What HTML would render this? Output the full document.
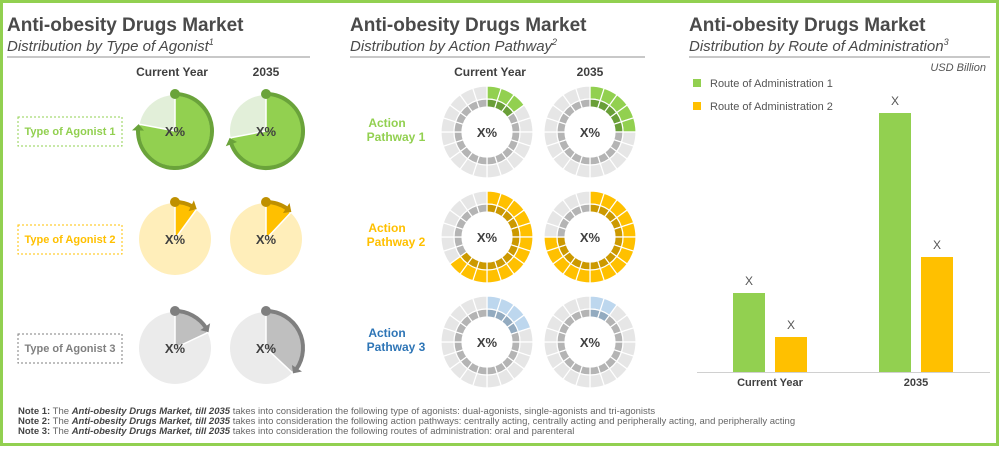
<!DOCTYPE html>
<html><head><meta charset="utf-8"><style>
body{margin:0;width:1000px;height:447px;overflow:hidden;background:#fff;font-family:"Liberation Sans",sans-serif}
</style></head><body>
<svg id="s" width="1000" height="447" xmlns="http://www.w3.org/2000/svg" font-family="Liberation Sans, sans-serif">
<rect x="1.5" y="1.5" width="996" height="443" fill="#fff" stroke="#92d050" stroke-width="3"/>
<g fill="#4a4a4a">
<text x="7" y="31" font-size="19" font-weight="bold">Anti-obesity Drugs Market</text>
<text x="7" y="51" font-size="15" font-style="italic">Distribution by Type of Agonist<tspan font-size="9" dy="-6">1</tspan></text>
<text x="350" y="31" font-size="19" font-weight="bold">Anti-obesity Drugs Market</text>
<text x="350" y="51" font-size="15" font-style="italic">Distribution by Action Pathway<tspan font-size="9" dy="-6">2</tspan></text>
<text x="689" y="31" font-size="19" font-weight="bold">Anti-obesity Drugs Market</text>
<text x="689" y="51" font-size="15" font-style="italic">Distribution by Route of Administration<tspan font-size="9" dy="-6">3</tspan></text>
</g>
<line x1="7" y1="57" x2="310" y2="57" stroke="#c8c8c8" stroke-width="2"/>
<line x1="350" y1="57" x2="645" y2="57" stroke="#c8c8c8" stroke-width="2"/>
<line x1="689" y1="57" x2="990" y2="57" stroke="#c8c8c8" stroke-width="2"/>
<g font-size="12" font-weight="bold" fill="#404040" text-anchor="middle">
<text x="172" y="76">Current Year</text>
<text x="266" y="76">2035</text>
<text x="490" y="76">Current Year</text>
<text x="590" y="76">2035</text>
</g>
<g id="left"></g><g id="mid"></g><g id="bars"></g>
<g font-size="9.5" fill="#666">
<text x="18" y="414"><tspan font-weight="bold" fill="#444">Note 1:</tspan> The <tspan font-weight="bold" font-style="italic" fill="#444">Anti-obesity Drugs Market, till 2035</tspan> takes into consideration the following type of agonists: dual-agonists, single-agonists and tri-agonists</text>
<text x="18" y="424"><tspan font-weight="bold" fill="#444">Note 2:</tspan> The <tspan font-weight="bold" font-style="italic" fill="#444">Anti-obesity Drugs Market, till 2035</tspan> takes into consideration the following action pathways: centrally acting, centrally acting and peripherally acting, and peripherally acting</text>
<text x="18" y="434"><tspan font-weight="bold" fill="#444">Note 3:</tspan> The <tspan font-weight="bold" font-style="italic" fill="#444">Anti-obesity Drugs Market, till 2035</tspan> takes into consideration the following routes of administration: oral and parenteral</text>
</g>
</svg>
<script>
const agonists=['Type of Agonist 1','Type of Agonist 2','Type of Agonist 3'];
const agonistCurrent=[78,10,18];
const agonist2035=[72,12,37];
const pathways=['Action Pathway 1','Action Pathway 2','Action Pathway 3'];
const pathwayCurrent=[3,13,4];
const pathway2035=[5,15,2];
const barCategories=['Current Year','2035'];
const route1=[79,259];
const route2=[35,115];
const seriesNames=['Route of Administration 1','Route of Administration 2'];

const NS='http://www.w3.org/2000/svg';
function mk(p,t,a){const e=document.createElementNS(NS,t);for(const k in a)e.setAttribute(k,a[k]);p.appendChild(e);return e;}
function pt(cx,cy,r,deg){const a=(deg-90)*Math.PI/180;return [cx+r*Math.cos(a),cy+r*Math.sin(a)];}
function wedge(cx,cy,r,a0,a1){const p0=pt(cx,cy,r,a0),p1=pt(cx,cy,r,a1);const l=(a1-a0)>180?1:0;return `M${cx},${cy}L${p0[0]},${p0[1]}A${r},${r} 0 ${l} 1 ${p1[0]},${p1[1]}Z`;}
function arc(cx,cy,r,a0,a1){const p0=pt(cx,cy,r,a0),p1=pt(cx,cy,r,a1);const l=(a1-a0)>180?1:0;return `M${p0[0]},${p0[1]}A${r},${r} 0 ${l} 1 ${p1[0]},${p1[1]}`;}
function ring(cx,cy,r0,r1,a0,a1){const p0=pt(cx,cy,r1,a0),p1=pt(cx,cy,r1,a1),q1=pt(cx,cy,r0,a1),q0=pt(cx,cy,r0,a0);return `M${p0}A${r1},${r1} 0 0 1 ${p1}L${q1}A${r0},${r0} 0 0 0 ${q0}Z`;}

const L=document.getElementById('left');
const pal=[['#e2efd9','#92d050','#6aa33a'],['#ffeeba','#ffc000','#bf9000'],['#ebebeb','#bfbfbf','#7f7f7f']];
const labCol=['#92d050','#ffc000','#7f7f7f'];
const rowsY=[131,239,348], colsX=[175,266];
agonists.forEach((name,i)=>{
  const cy=rowsY[i];
  const g=mk(L,'g',{});
  
  
  const box=mk(g,'rect',{x:18,y:cy-14,width:104,height:29,fill:'none',stroke:labCol[i],'stroke-dasharray':'2,2','stroke-width':1});
  
  
  const t=mk(g,'text',{x:70,y:cy+4,'text-anchor':'middle','font-size':11,'font-weight':'bold',fill:labCol[i]});t.textContent=name;
  
  
  [agonistCurrent[i],agonist2035[i]].forEach((v,j)=>{
    const cx=colsX[j],r=36,ang=v*3.6;
    const bg=mk(g,'circle',{cx,cy,r,fill:pal[i][0]});
    
    
    const w=mk(g,'path',{d:wedge(cx,cy,r,0,ang),fill:pal[i][1],stroke:'#fff','stroke-width':1.5});
    
    
    const ar=mk(g,'path',{d:arc(cx,cy,r+1,0,ang-8),fill:'none',stroke:pal[i][2],'stroke-width':4});
    
    
    const d=mk(g,'circle',{cx,cy:cy-r-1,r:5,fill:pal[i][2]});
    
    
    const tip=pt(cx,cy,r+1,ang), b1=pt(cx,cy,r+7,ang-10), b2=pt(cx,cy,r-5,ang-10);
    const h=mk(g,'polygon',{points:`${tip} ${b1} ${b2}`,fill:pal[i][2]});
    
    
    const x=mk(g,'text',{x:cx,y:cy+5,'text-anchor':'middle','font-size':13,'font-weight':'bold',fill:'#404040'});x.textContent='X%';
    
    
  });
});

const M=document.getElementById('mid');
const dp=[['#92d050','#6a9f38'],['#ffc000','#cc9900'],['#bdd7ee','#93abc0']];
const dlab=['#92d050','#ffc000','#2e75b6'];
const mRows=[132,237,342], mCols=[487,590];
pathways.forEach((name,i)=>{
  const cy=mRows[i];
  const g=mk(M,'g',{});
  
  
  const words=name.split(' ');
  const t1=mk(g,'text',{x:387,y:cy-5,'text-anchor':'middle','font-size':12,'font-weight':'bold',fill:dlab[i]});t1.textContent=words[0];
  
  
  const t2=mk(g,'text',{x:396,y:cy+9,'text-anchor':'middle','font-size':12,'font-weight':'bold',fill:dlab[i]});t2.textContent=words[1]+' '+words[2];
  
  
  [pathwayCurrent[i],pathway2035[i]].forEach((n,j)=>{
    const cx=mCols[j];
    for(let k=0;k<20;k++){
      const on=k<n,a0=k*18,a1=a0+18;
      const o=mk(g,'path',{d:ring(cx,cy,33,46,a0,a1),fill:on?dp[i][0]:'#e6e6e6',stroke:'#fff','stroke-width':1.2});
      
      
      const inn=mk(g,'path',{d:ring(cx,cy,25,33,a0,a1),fill:on?dp[i][1]:'#b4b4b4',stroke:'#fff','stroke-width':1.2});
      
      
    }
    const x=mk(g,'text',{x:cx,y:cy+5,'text-anchor':'middle','font-size':13,'font-weight':'bold',fill:'#404040'});x.textContent='X%';
    
    
  });
});

const B=document.getElementById('bars');
const base=372, yScale=v=>base-v;
const u=mk(B,'text',{x:986,y:71,'text-anchor':'end','font-size':11,'font-style':'italic',fill:'#555'});u.textContent='USD Billion';


const cols=['#92d050','#ffc000'];
seriesNames.forEach((s,i)=>{
  const r=mk(B,'rect',{x:693,y:79+i*23,width:8,height:8,fill:cols[i]});
  
  
  const t=mk(B,'text',{x:710,y:87+i*23,'font-size':11,fill:'#555'});t.textContent=s;
  
  
});
const ax=mk(B,'line',{x1:697,y1:base+0.5,x2:990,y2:base+0.5,stroke:'#d0d0d0','stroke-width':1});


const catX=[770,916];
barCategories.forEach((c,ci)=>{
  [route1[ci],route2[ci]].forEach((v,si)=>{
    const x=catX[ci]-37+si*42;
    const r=mk(B,'rect',{x,y:yScale(v),width:32,height:v,fill:cols[si]});
    
    
    const l=mk(B,'text',{x:x+16,y:yScale(v)-8,'text-anchor':'middle','font-size':12,fill:'#555'});l.textContent='X';
    
    
  });
  const t=mk(B,'text',{x:catX[ci],y:base+14,'text-anchor':'middle','font-size':11,'font-weight':'bold',fill:'#404040'});t.textContent=c;
  
  
});
</script>
</body></html>
